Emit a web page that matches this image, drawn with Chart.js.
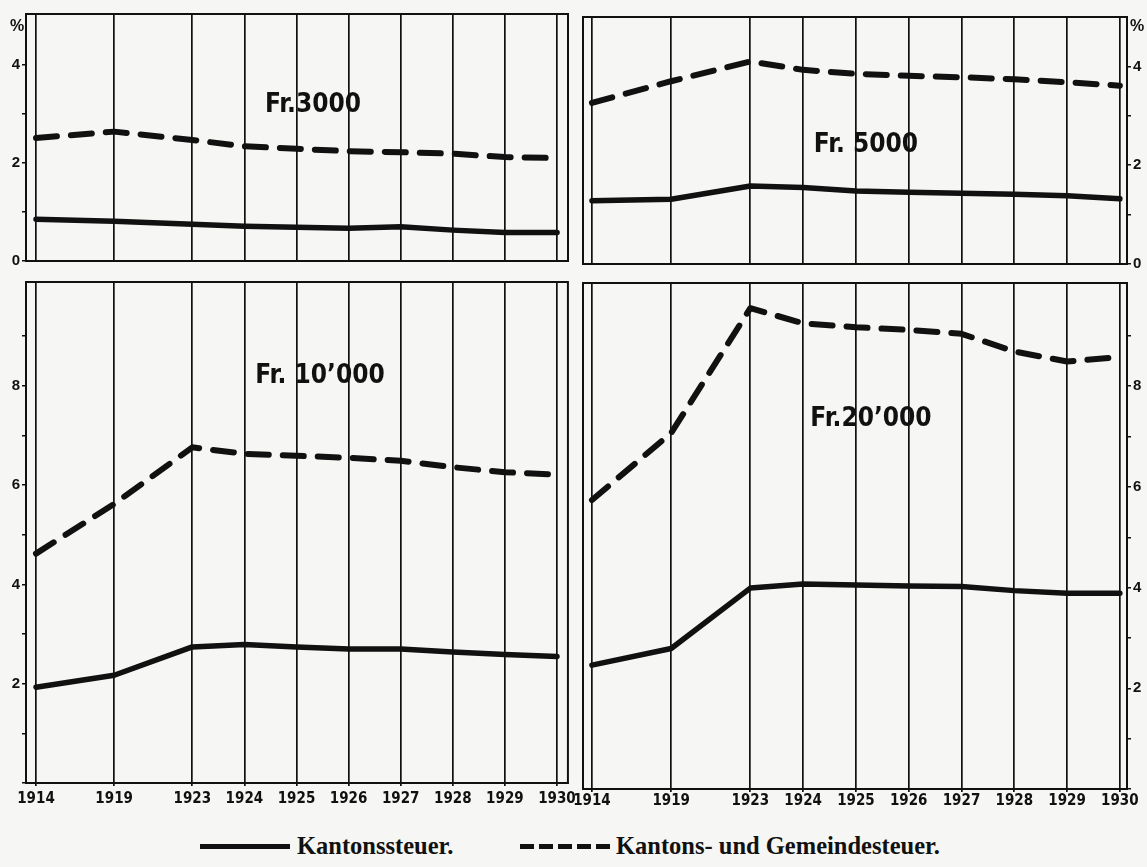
<!DOCTYPE html>
<html>
<head>
<meta charset="utf-8">
<script src="https://cdn.jsdelivr.net/npm/chart.js@4"></script>
<style>
  body { margin: 0; background: #f6f6f4; }
  #page { position: relative; width: 1147px; height: 867px; overflow: hidden; background: #f6f6f4; }
  .panel { position: absolute; }
  .title {
    position: absolute; transform: translate(-50%, -50%); white-space: nowrap;
    font-family: "Liberation Sans Narrow", "DejaVu Sans Condensed", sans-serif;
    font-weight: bold; font-size: 26px; color: #111;
  }
  .pct { position: absolute; transform: translate(-50%, -50%); font: bold 16px "Liberation Sans", sans-serif; color: #111; }
  .leg { position: absolute; top: 846px; transform: translateY(-50%); white-space: nowrap;
    font-family: "Liberation Serif", serif; font-weight: bold; font-size: 24.5px; color: #111; }
  .solid { position: absolute; top: 844px; width: 90px; height: 5px; background: #111; }
  .dashed { position: absolute; top: 844px; width: 90px; height: 5px;
    background: repeating-linear-gradient(90deg, #111 0 14px, transparent 14px 19px); }
</style>
</head>
<body>
<div id="page">
  <div class="panel" style="left:0;top:0"><canvas id="p3000" width="580" height="272"></canvas></div>
  <div class="panel" style="left:572px;top:0"><canvas id="p5000" width="575" height="275"></canvas></div>
  <div class="panel" style="left:0;top:270px"><canvas id="p10000" width="580" height="545"></canvas></div>
  <div class="panel" style="left:572px;top:270px"><canvas id="p20000" width="575" height="545"></canvas></div>

  <div class="title" style="left:313px;top:103px">Fr.3000</div>
  <div class="title" style="left:866px;top:143px">Fr. 5000</div>
  <div class="title" style="left:320px;top:374px">Fr. 10’000</div>
  <div class="title" style="left:871px;top:417px">Fr.20’000</div>
  <div class="pct" style="left:17px;top:26px">%</div>
  <div class="pct" style="left:1137px;top:26px">%</div>

  <div class="solid" style="left:200px"></div>
  <div class="leg" style="left:297px">Kantonssteuer.</div>
  <div class="dashed" style="left:520px"></div>
  <div class="leg" style="left:616px">Kantons- und Gemeindesteuer.</div>
</div>
<script>
// years on the original axis (1914-1923 drawn compressed)
const years = ['1914', '1919', '1923', '1924', '1925', '1926', '1927', '1928', '1929', '1930'];
const yearSlots = [0, 3, 6, 8, 10, 12, 14, 16, 18, 20];

// tax in % of income
const kanton3000 = [0.85, 0.81, 0.75, 0.71, 0.69, 0.67, 0.70, 0.63, 0.58, 0.58];
const gemeinde3000 = [2.51, 2.64, 2.47, 2.34, 2.29, 2.24, 2.22, 2.19, 2.12, 2.10];
const kanton5000 = [1.28, 1.31, 1.58, 1.55, 1.48, 1.45, 1.43, 1.41, 1.38, 1.32];
const gemeinde5000 = [3.26, 3.70, 4.10, 3.93, 3.85, 3.81, 3.78, 3.74, 3.68, 3.61];
const kanton10000 = [1.93, 2.17, 2.74, 2.79, 2.74, 2.70, 2.70, 2.64, 2.59, 2.55];
const gemeinde10000 = [4.62, 5.62, 6.76, 6.63, 6.59, 6.55, 6.49, 6.36, 6.26, 6.21];
const kanton20000 = [2.46, 2.79, 3.99, 4.07, 4.05, 4.03, 4.02, 3.94, 3.89, 3.89];
const gemeinde20000 = [5.74, 7.07, 9.55, 9.25, 9.17, 9.12, 9.04, 8.69, 8.49, 8.58];

const INK = '#111';

const framePlugin = {
  id: 'frame',
  afterDraw(chart) {
    const a = chart.chartArea, ctx = chart.ctx;
    ctx.save();
    ctx.strokeStyle = INK;
    ctx.lineWidth = 2;
    ctx.strokeRect(a.left, a.top, a.right - a.left, a.bottom - a.top);
    ctx.restore();
  }
};

function points(values) {
  return values.map((v, i) => ({ x: yearSlots[i], y: v }));
}

function makePanel(id, solid, dashed, o) {
  new Chart(document.getElementById(id), {
    type: 'line',
    data: {
      datasets: [
        { label: 'Kantonssteuer.', data: points(solid), borderColor: INK, borderWidth: 5.5,
          borderCapStyle: 'round', borderJoinStyle: 'round' },
        { label: 'Kantons- und Gemeindesteuer.', data: points(dashed), borderColor: INK, borderWidth: 6,
          borderDash: [21, 14], borderCapStyle: 'round', borderJoinStyle: 'round' }
      ]
    },
    options: {
      responsive: false,
      animation: false,
      devicePixelRatio: 1,
      layout: { padding: o.padding },
      elements: { point: { radius: 0 }, line: { tension: 0 } },
      plugins: { legend: { display: false }, tooltip: { enabled: false } },
      scales: {
        x: {
          type: 'linear', min: o.xMin, max: o.xMax,
          afterBuildTicks: s => { s.ticks = yearSlots.map(v => ({ value: v })); },
          afterFit: s => { s.height = o.xHeight; },
          grid: { color: INK, lineWidth: 1.7, drawTicks: o.xLabels, tickLength: 3 },
          border: { color: INK, width: 2 },
          ticks: {
            display: o.xLabels, autoSkip: false, maxRotation: 0, padding: o.xPad, color: INK,
            font: { family: '"Liberation Sans Narrow", "DejaVu Sans Condensed", sans-serif', weight: 'bold', size: 15 },
            callback: v => years[yearSlots.indexOf(v)]
          }
        },
        y: {
          position: o.yPos, min: 0, max: o.yMax,
          afterBuildTicks: s => { s.ticks = s.ticks.filter(t => t.value <= o.yTop); },
          afterFit: s => { s.width = o.yWidth; },
          grid: { drawOnChartArea: false, color: INK, lineWidth: 1.5, tickLength: 4 },
          border: { color: INK, width: 2 },
          ticks: {
            stepSize: 1, padding: 2, color: INK,
            font: { family: '"Liberation Sans", sans-serif', weight: 'bold', size: 15 },
            callback: v => (v % 2 === 0 && (v > 0 || o.zeroLabel)) ? String(v) : ''
          }
        }
      }
    },
    plugins: [framePlugin]
  });
}

makePanel('p3000', kanton3000, gemeinde3000, {
  padding: { top: 14, right: 12, bottom: 10, left: 0 },
  xMin: -0.384, xMax: 20.42, xHeight: 0, xLabels: false, xPad: 0,
  yPos: 'left', yMax: 5.04, yTop: 4, yWidth: 26, zeroLabel: true
});
makePanel('p5000', kanton5000, gemeinde5000, {
  padding: { top: 17, right: 0, bottom: 10, left: 11 },
  xMin: -0.34, xMax: 20.27, xHeight: 0, xLabels: false, xPad: 0,
  yPos: 'right', yMax: 5.0, yTop: 4, yWidth: 20, zeroLabel: true
});
makePanel('p10000', kanton10000, gemeinde10000, {
  padding: { top: 12, right: 12, bottom: 0, left: 0 },
  xMin: -0.384, xMax: 20.42, xHeight: 32, xLabels: true, xPad: 4,
  yPos: 'left', yMax: 10.09, yTop: 9, yWidth: 26, zeroLabel: false
});
makePanel('p20000', kanton20000, gemeinde20000, {
  padding: { top: 13, right: 0, bottom: 0, left: 11 },
  xMin: -0.34, xMax: 20.27, xHeight: 26, xLabels: true, xPad: 0,
  yPos: 'right', yMax: 10.05, yTop: 9, yWidth: 20, zeroLabel: false
});
</script>
</body>
</html>
